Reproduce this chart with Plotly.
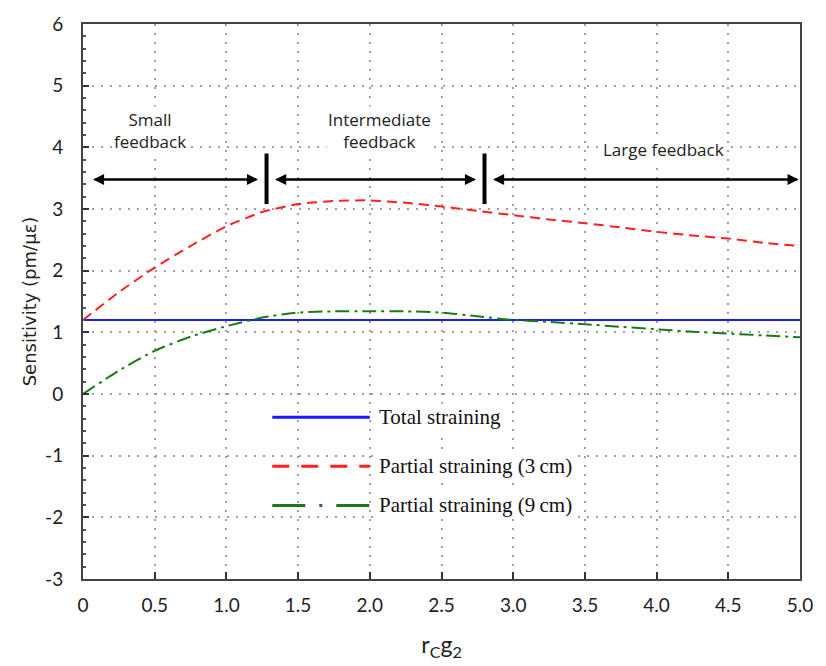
import plotly.graph_objects as go

# r_C g_2 values and sensitivities (pm/µε)
x_vals = [0, 0.25, 0.5, 0.75, 1.0, 1.25, 1.5, 1.75, 2.0, 2.25, 2.5, 2.75, 3.0, 3.25, 3.5, 3.75, 4.0, 4.25, 4.5, 4.75, 5.0]
total = [1.2] * len(x_vals)
partial_3cm = [1.2, 1.65, 2.05, 2.4, 2.72, 2.95, 3.08, 3.13, 3.14, 3.1, 3.04, 2.97, 2.9, 2.83, 2.77, 2.7, 2.63, 2.57, 2.52, 2.45, 2.4]
partial_9cm = [0.0, 0.38, 0.7, 0.93, 1.1, 1.24, 1.32, 1.34, 1.34, 1.34, 1.32, 1.26, 1.2, 1.17, 1.13, 1.09, 1.05, 1.01, 0.98, 0.95, 0.92]

x_ticks = [0, 0.5, 1.0, 1.5, 2.0, 2.5, 3.0, 3.5, 4.0, 4.5, 5.0]
x_ticktext = ["0", "0.5", "1.0", "1.5", "2.0", "2.5", "3.0", "3.5", "4.0", "4.5", "5.0"]
y_ticks = [-3, -2, -1, 0, 1, 2, 3, 4, 5, 6]
y_ticktext = ["-3", "-2", "-1", "0", "1", "2", "3", "4", "5", "6"]

series_names = ["Total straining", "Partial straining (3\u2009cm)", "Partial straining (9\u2009cm)"]
series_colors = ["#1a1aff", "#ff2020", "#1a7a1a"]
series_dash = ["solid", "10px,6px", "14px,5px,3px,5px"]
legend_dash = ["solid", "17px,12px", "33px,14px,3px,14px"]

# feedback regime boundaries and labels
boundaries = [1.28, 2.8]
regions = [(0.07, 1.22, 0.47, "Small<br>feedback"),
           (1.34, 2.74, 2.07, "Intermediate<br>feedback"),
           (2.86, 4.99, 4.05, "Large feedback")]
arrow_y = 3.48

fig = go.Figure()
for ys, name, col, dash in zip([total, partial_3cm, partial_9cm], series_names, series_colors, series_dash):
    fig.add_trace(go.Scatter(x=x_vals, y=ys, mode="lines", name=name,
                             line=dict(color=col, width=2, dash=dash, shape="spline", smoothing=0.6),
                             showlegend=False))

anns = []
shapes = []
for x0, x1, xc, label in regions:
    # double-headed arrows
    anns.append(dict(x=x1, y=arrow_y, ax=x0, ay=arrow_y, xref="x", yref="y", axref="x", ayref="y",
                     showarrow=True, arrowhead=2, arrowsize=1.1, arrowwidth=2, arrowcolor="black", text=""))
    anns.append(dict(x=x0, y=arrow_y, ax=x1, ay=arrow_y, xref="x", yref="y", axref="x", ayref="y",
                     showarrow=True, arrowhead=2, arrowsize=1.1, arrowwidth=2, arrowcolor="black", text=""))
    anns.append(dict(x=xc, y=4.27 if "<br>" in label else 3.97, xref="x", yref="y", text=label,
                     showarrow=False, font=dict(family="Open Sans", size=17, color="#222"),
                     align="center", bgcolor="white"))
for b in boundaries:
    shapes.append(dict(type="line", xref="x", yref="y", x0=b, x1=b, y0=3.08, y1=3.9,
                       line=dict(color="black", width=4)))

# legend drawn as line samples with serif labels
leg_y = [0.2915, 0.203, 0.1325]
for yy, name, col, dash in zip(leg_y, series_names, series_colors, legend_dash):
    shapes.append(dict(type="line", xref="paper", yref="paper", x0=0.264, x1=0.40, y0=yy, y1=yy,
                       line=dict(color=col, width=3, dash=dash)))
    anns.append(dict(x=0.41, y=yy, xref="paper", yref="paper", text=name, showarrow=False,
                     xanchor="left", yanchor="middle", bgcolor="white",
                     font=dict(family="Liberation Serif", size=21, color="#111")))

grid_style = dict(showgrid=True, gridcolor="#a0a0a0", griddash="2px,7px", gridwidth=1.5)

fig.update_layout(
    width=826, height=666,
    margin=dict(l=83, r=26, t=14, b=86),
    plot_bgcolor="white", paper_bgcolor="white",
    annotations=anns, shapes=shapes,
    xaxis=dict(range=[0, 5.0], tickvals=x_ticks, ticktext=x_ticktext,
               showline=True, linecolor="#444", linewidth=2, mirror=True,
               ticks="inside", ticklen=7, tickcolor="#333", tickwidth=1.5,
               zeroline=False, ticklabelstandoff=8,
               tickfont=dict(family="Lato", size=19, color="#222"),
               title=dict(text="r<sub>C</sub>g<sub>2</sub>", font=dict(family="Lato", size=23, color="#222"),
                          standoff=22),
               **grid_style),
    yaxis=dict(range=[-3, 6], tickvals=y_ticks, ticktext=y_ticktext,
               showline=True, linecolor="#444", linewidth=2, mirror=True,
               ticks="inside", ticklen=6, tickcolor="#333", tickwidth=1.5,
               minor=dict(dtick=0.2, ticks="inside", ticklen=3, tickcolor="#555", showgrid=False),
               zeroline=False, ticklabelstandoff=14,
               tickfont=dict(family="Lato", size=19, color="#222"),
               title=dict(text="Sensitivity (pm/\u03bc\u03b5)", font=dict(family="DejaVu Sans", size=18, color="#222"),
                          standoff=4),
               **grid_style),
)

fig.write_html("out.html")
